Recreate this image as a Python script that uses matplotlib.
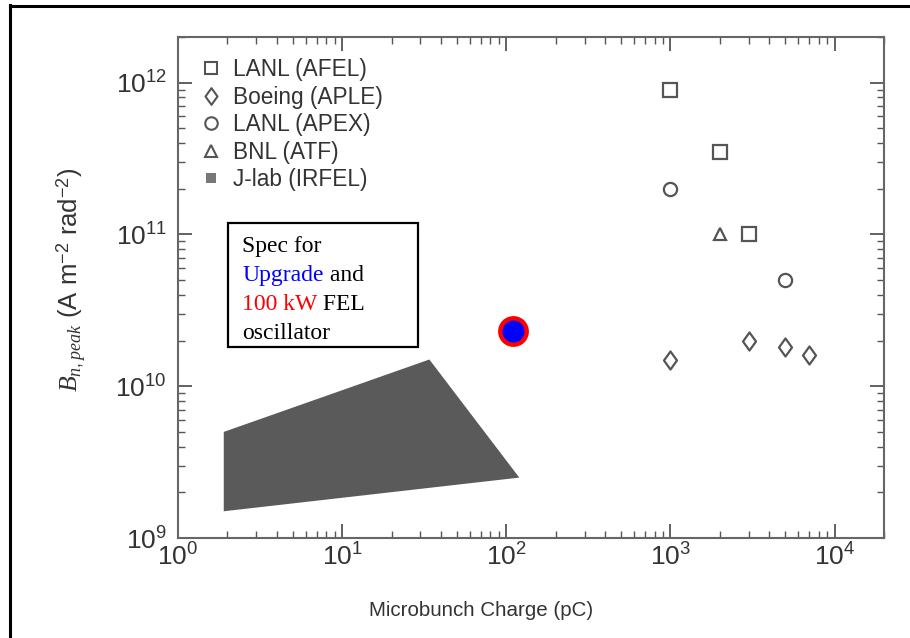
import matplotlib
matplotlib.use('Agg')
import matplotlib.pyplot as plt
from matplotlib.lines import Line2D
from matplotlib.path import Path
from matplotlib.patches import Rectangle
import matplotlib.ticker as mticker

plt.rcParams['font.family'] = ['Liberation Sans', 'DejaVu Sans']
plt.rcParams['mathtext.fontset'] = 'custom'
plt.rcParams['mathtext.rm'] = 'Liberation Sans'
plt.rcParams['mathtext.it'] = 'Liberation Serif:italic'
plt.rcParams['mathtext.bf'] = 'Liberation Sans:bold'

# ---- data ----
afel_x = [1000, 2000, 3000]
afel_y = [9.0e11, 3.5e11, 1.0e11]
aple_x = [1000, 3000, 5000, 7000]
aple_y = [1.5e10, 2.0e10, 1.8e10, 1.6e10]
apex_x = [1000, 5000]
apex_y = [2.0e11, 5.0e10]
atf_x = [2000]
atf_y = [1.0e11]
irfel_x = [1.9, 34, 120, 1.9]
irfel_y = [5.0e9, 1.5e10, 2.5e9, 1.5e9]
spec_x = [110]
spec_y = [2.3e10]
legend_labels = ['LANL (AFEL)', 'Boeing (APLE)', 'LANL (APEX)', 'BNL (ATF)', 'J-lab (IRFEL)']

W, H = 910, 638
fig = plt.figure(figsize=(W / 100, H / 100), dpi=100)

def fx(x):
    return x / W

def fy(y):
    return 1 - y / H

ax = fig.add_axes([fx(178), fy(538), (884 - 178) / W, (538 - 37) / H])
ax.set_xscale('log')
ax.set_yscale('log')
ax.set_xlim(1, 2e4)
ax.set_ylim(1e9, 2e12)

mc = '#555555'
diamond = Path([(0, 1), (0.72, 0), (0, -1), (-0.72, 0), (0, 1)],
               [Path.MOVETO, Path.LINETO, Path.LINETO, Path.LINETO, Path.CLOSEPOLY])

ax.fill(irfel_x, irfel_y, color='#5a5a5a', lw=0, zorder=2)
ax.plot(afel_x, afel_y, ls='none', marker='s', ms=9.5, mfc='white', mec=mc, mew=1.6, zorder=3)
ax.plot(aple_x, aple_y, ls='none', marker=diamond, ms=13, mfc='white', mec=mc, mew=1.6, zorder=3)
ax.plot(apex_x, apex_y, ls='none', marker='o', ms=9.5, mfc='white', mec=mc, mew=1.6, zorder=3)
ax.plot(atf_x, atf_y, ls='none', marker='^', ms=8.5, mfc='white', mec=mc, mew=1.6, zorder=3)
ax.plot(spec_x, spec_y, ls='none', marker='o', ms=19, mfc='#0000ff', mec='#ff0000', mew=3.2, zorder=4)

handles = [
    Line2D([], [], ls='none', marker='s', ms=9, mfc='white', mec=mc, mew=1.5),
    Line2D([], [], ls='none', marker=diamond, ms=12, mfc='white', mec=mc, mew=1.5),
    Line2D([], [], ls='none', marker='o', ms=9, mfc='white', mec=mc, mew=1.5),
    Line2D([], [], ls='none', marker='^', ms=8, mfc='white', mec=mc, mew=1.5),
    Line2D([], [], ls='none', marker='s', ms=7, mfc='#777777', mec='#777777', mew=0),
]
ax.legend(handles, legend_labels, loc='upper left', bbox_to_anchor=(0.012, 0.985),
          frameon=False, fontsize=16.3, handlelength=1.0, handletextpad=0.45,
          labelspacing=0.2, labelcolor='#333333', borderaxespad=0.2)

for s in ax.spines.values():
    s.set_color('#666666')
    s.set_linewidth(1.5)
ax.tick_params(which='both', direction='in', top=True, right=True, color='#555555',
               labelcolor='#333333')
ax.tick_params(which='major', length=10, width=1.3, labelsize=19)
ax.tick_params(axis='y', which='major', pad=8)
ax.tick_params(axis='x', which='major', pad=4)
ax.tick_params(which='minor', length=5, width=1.0)
ax.xaxis.set_major_locator(mticker.LogLocator(base=10, numticks=20))
ax.xaxis.set_minor_locator(mticker.LogLocator(base=10, subs=range(2, 10), numticks=20))
ax.yaxis.set_major_locator(mticker.LogLocator(base=10, numticks=20))
ax.yaxis.set_minor_locator(mticker.LogLocator(base=10, subs=range(2, 10), numticks=20))
ax.xaxis.set_minor_formatter(mticker.NullFormatter())
ax.yaxis.set_minor_formatter(mticker.NullFormatter())

ax.set_xlabel('Microbunch Charge (pC)', fontsize=14.8, color='#333333', labelpad=20)
ax.xaxis.set_label_coords((481 - 178) / 706, -0.125)
ax.set_ylabel(r'$B_{n,peak}$ (A m$^{-2}$ rad$^{-2}$)', fontsize=18.5, color='#333333')
ax.yaxis.set_label_coords(-(178 - 88) / 706, (538 - 280) / 501)

# ---- annotation box ----
fig.add_artist(Rectangle((fx(228), fy(347)), 190 / W, 124 / H, transform=fig.transFigure,
                         facecolor='white', edgecolor='black', lw=1.6, zorder=5))
serif = dict(family=['Liberation Serif', 'DejaVu Serif'], size=17, va='baseline',
             ha='left', zorder=6)
x0 = 242
lines = [
    [('Spec for', 'black')],
    [('Upgrade', '#0000ff'), (' and', 'black')],
    [('100 kW', '#ff0000'), (' FEL', 'black')],
    [('oscillator', 'black')],
]
baselines = [252, 281, 310, 339]
fig.canvas.draw()
renderer = fig.canvas.get_renderer()
for parts, yb in zip(lines, baselines):
    xcur = x0
    for txt, col in parts:
        t = fig.text(fx(xcur), fy(yb), txt, color=col, **serif)
        bb = t.get_window_extent(renderer)
        xcur = bb.x1

# ---- outer frame lines ----
fig.add_artist(Line2D([fx(9.5), fx(9.5)], [0, fy(5)], transform=fig.transFigure,
                      color='black', lw=2.2))
fig.add_artist(Line2D([fx(9.5), 1], [fy(5.5), fy(5.5)], transform=fig.transFigure,
                      color='black', lw=2.2))

fig.savefig('out.png', dpi=100)
